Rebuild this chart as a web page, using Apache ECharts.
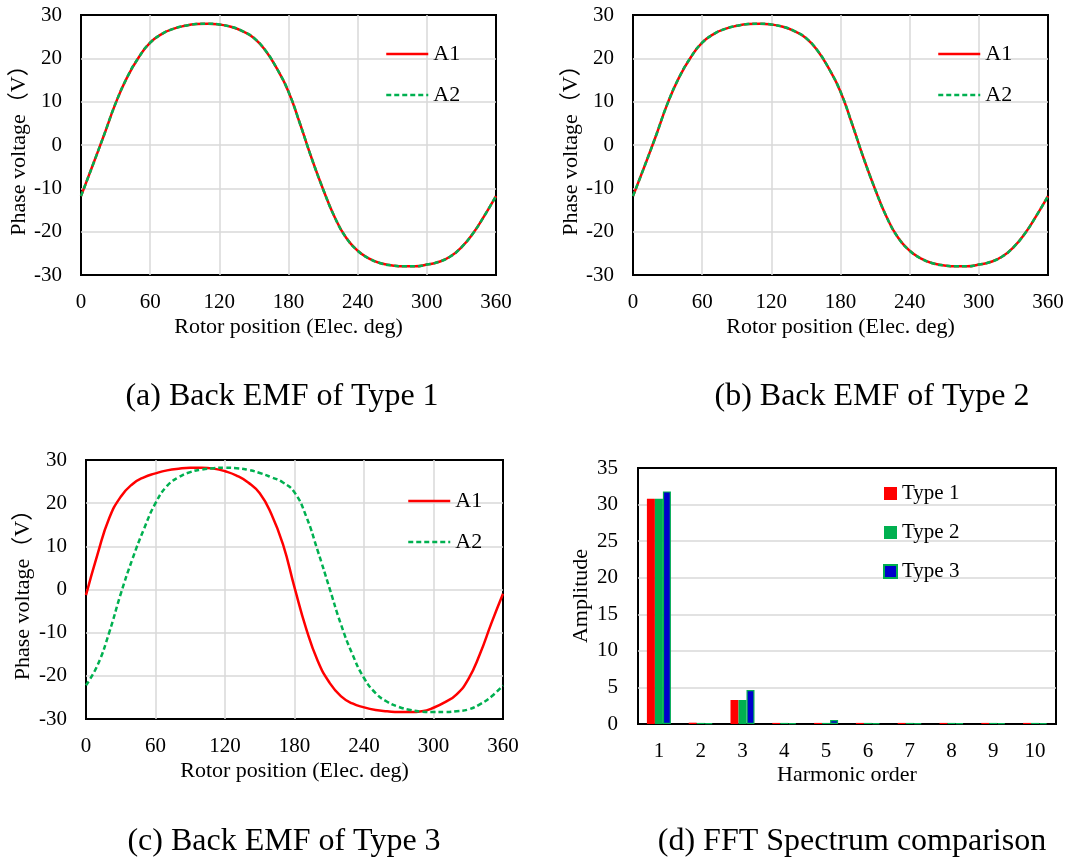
<!DOCTYPE html>
<html>
<head>
<meta charset="utf-8">
<script src="https://cdn.jsdelivr.net/npm/echarts@6/dist/echarts.min.js"></script>
<style>
html,body{margin:0;padding:0;background:#fff;}
#main{width:1089px;height:863px;}
</style>
</head>
<body>
<div id="main"></div>
<script>
// ---------- data ----------
const angles = [0,10,20,30,40,50,60,70,80,90,100,110,120,130,140,150,160,170,180,190,200,210,220,230,240,250,260,270,280,290,300,310,320,330,340,350,360];
const xTicks = [0, 60, 120, 180, 240, 300, 360];
const yTicksLine = [-30, -20, -10, 0, 10, 20, 30];

const typeA_A1 = [-11.8,-4.8,2.3,9.6,15.6,20.2,23.6,25.6,26.8,27.5,27.9,28.0,27.8,27.3,26.3,24.7,21.8,17.6,12.3,4.9,-3.0,-10.2,-16.6,-21.4,-24.4,-26.2,-27.3,-27.8,-28.0,-28.0,-27.6,-27.0,-25.8,-23.6,-20.4,-16.3,-11.8];
const typeA_A2 = [-11.8,-4.8,2.3,9.6,15.6,20.2,23.6,25.6,26.8,27.5,27.9,28.0,27.8,27.3,26.3,24.7,21.8,17.6,12.3,4.9,-3.0,-10.2,-16.6,-21.4,-24.4,-26.2,-27.3,-27.8,-28.0,-28.0,-27.6,-27.0,-25.8,-23.6,-20.4,-16.3,-11.8];
const typeB_A1 = [-11.8,-4.9,2.2,9.6,15.6,20.2,23.6,25.6,26.8,27.5,27.9,28.0,27.8,27.3,26.3,24.7,21.8,17.6,12.3,4.9,-3.0,-10.2,-16.6,-21.4,-24.4,-26.2,-27.3,-27.8,-28.0,-28.0,-27.6,-27.0,-25.8,-23.6,-20.4,-16.3,-11.8];
const typeB_A2 = [-11.8,-4.9,2.2,9.6,15.6,20.2,23.6,25.6,26.8,27.5,27.9,28.0,27.8,27.3,26.3,24.7,21.8,17.6,12.3,4.9,-3.0,-10.2,-16.6,-21.4,-24.4,-26.2,-27.3,-27.8,-28.0,-28.0,-27.6,-27.0,-25.8,-23.6,-20.4,-16.3,-11.8];
const typeC_A1 = [-1.3,8.2,16.5,21.5,24.4,26.0,26.9,27.6,28.0,28.2,28.2,28.0,27.4,26.4,24.8,22.3,17.5,10.5,0.5,-9.0,-16.5,-21.5,-24.7,-26.4,-27.3,-27.9,-28.2,-28.4,-28.4,-28.2,-27.4,-26.1,-24.3,-20.8,-15.0,-7.8,-1.0];
const typeC_A2 = [-22.2,-17.5,-10.0,-1.0,7.0,14.0,20.0,24.0,26.0,27.2,27.8,28.1,28.2,28.1,27.7,27.0,26.0,24.8,22.5,17.0,9.0,0.5,-8.0,-15.0,-20.5,-24.0,-26.0,-27.2,-27.9,-28.3,-28.4,-28.4,-28.2,-27.8,-26.6,-24.8,-22.2];

const harmonics = ['1','2','3','4','5','6','7','8','9','10'];
const fftType1 = [30.8,0.18,3.28,0.15,0.15,0.15,0.15,0.15,0.15,0.15];
const fftType2 = [30.8,0.15,3.28,0.15,0.15,0.15,0.15,0.15,0.15,0.15];
const fftType3 = [31.8,0.12,4.65,0.12,0.55,0.12,0.12,0.12,0.12,0.12];
const yTicksBar = [0, 5, 10, 15, 20, 25, 30, 35];

const captions = ['(a) Back EMF of Type 1', '(b) Back EMF of Type 2', '(c) Back EMF of Type 3', '(d) FFT Spectrum comparison'];

// ---------- styles ----------
const FONT = "'Liberation Serif', 'Times New Roman', 'Noto Sans CJK SC', serif";
const RED = '#ff0000', GREEN = '#00b050', BLUE = '#0000cc', GRIDC = '#d9d9d9';

const grids = [
  {left: 81, top: 15, width: 415, height: 260},
  {left: 633, top: 15, width: 415, height: 260},
  {left: 86, top: 460, width: 417, height: 259},
  {left: 638, top: 468, width: 418, height: 256}
].map(g => Object.assign({show: true, borderColor: '#000', borderWidth: 2, backgroundColor: '#fff', containLabel: false}, g));

const splitStyle = {show: true, showMinLine: false, showMaxLine: false, lineStyle: {color: GRIDC, width: 1.5}};

function lineX(gi) {
  return {
    type: 'value', gridIndex: gi, min: xTicks[0], max: xTicks[xTicks.length-1], interval: 60,
    name: 'Rotor position (Elec. deg)', nameLocation: 'middle', nameGap: 41,
    nameTextStyle: {fontFamily: FONT, fontSize: 22, color: '#000'},
    axisLine: {show: false}, axisTick: {show: false},
    axisLabel: {fontFamily: FONT, fontSize: 21, color: '#000', margin: 17},
    splitLine: splitStyle
  };
}
function lineY(gi, gap) {
  return {
    type: 'value', gridIndex: gi, min: yTicksLine[0], max: yTicksLine[yTicksLine.length-1], interval: 10,
    name: 'Phase voltage（V）', nameLocation: 'middle', nameGap: gap,
    nameTextStyle: {fontFamily: FONT, fontSize: 22, color: '#000'},
    axisLine: {show: false}, axisTick: {show: false},
    axisLabel: {fontFamily: FONT, fontSize: 21, color: '#000', margin: 19},
    splitLine: splitStyle
  };
}
function pts(arr) { return angles.map((a, i) => [a, arr[i]]); }
function lineSeries(name, gi, arr, dashed) {
  return {
    type: 'line', name: name, xAxisIndex: gi, yAxisIndex: gi, data: pts(arr),
    smooth: 0.5, showSymbol: false, symbol: 'none', silent: true, animation: false,
    lineStyle: {color: dashed ? GREEN : RED, width: 2.5, type: dashed ? [5, 3] : 'solid'},
    itemStyle: {color: dashed ? GREEN : RED}
  };
}
function lineLegend(names, left, top) {
  return {
    orient: 'vertical', left: left, top: top, padding: 0, itemGap: 19, itemWidth: 42, itemHeight: 14,
    data: names, formatter: n => n.slice(2),
    selectedMode: false,
    itemStyle: {opacity: 0},
    lineStyle: {width: 2.5},
    textStyle: {fontFamily: FONT, fontSize: 22, color: '#000'}
  };
}

const chart = echarts.init(document.getElementById('main'), null, {renderer: 'canvas'});

const option = {
  animation: false,
  backgroundColor: '#fff',
  grid: grids,
  xAxis: [lineX(0), lineX(1), lineX(2), {
    type: 'category', gridIndex: 3, data: harmonics, boundaryGap: true,
    name: 'Harmonic order', nameLocation: 'middle', nameGap: 40,
    nameTextStyle: {fontFamily: FONT, fontSize: 22, color: '#000'},
    axisLine: {show: false}, axisTick: {show: false},
    axisLabel: {fontFamily: FONT, fontSize: 21, color: '#000', margin: 17},
    splitLine: {show: false}
  }],
  yAxis: [lineY(0, 46), lineY(1, 49), lineY(2, 52), {
    type: 'value', gridIndex: 3, min: yTicksBar[0], max: yTicksBar[yTicksBar.length-1], interval: 5,
    name: 'Amplitude', nameLocation: 'middle', nameGap: 46,
    nameTextStyle: {fontFamily: FONT, fontSize: 22, color: '#000'},
    axisLine: {show: false}, axisTick: {show: false},
    axisLabel: {fontFamily: FONT, fontSize: 21, color: '#000', margin: 20},
    splitLine: splitStyle
  }],
  legend: [
    lineLegend(['a-A1', 'a-A2'], 385, 43),
    lineLegend(['b-A1', 'b-A2'], 937, 43),
    lineLegend(['c-A1', 'c-A2'], 407, 490),
    {
      orient: 'vertical', left: 883, top: 483, padding: 0, itemGap: 18, itemWidth: 13, itemHeight: 13,
      selectedMode: false, icon: 'rect',
      data: ['Type 1', 'Type 2', 'Type 3'],
      textStyle: {fontFamily: FONT, fontSize: 21, color: '#000'}
    }
  ],
  series: [
    lineSeries('a-A1', 0, typeA_A1, false),
    lineSeries('a-A2', 0, typeA_A2, true),
    lineSeries('b-A1', 1, typeB_A1, false),
    lineSeries('b-A2', 1, typeB_A2, true),
    lineSeries('c-A1', 2, typeC_A1, false),
    lineSeries('c-A2', 2, typeC_A2, true),
    {type: 'bar', name: 'Type 1', xAxisIndex: 3, yAxisIndex: 3, data: fftType1, barWidth: 8, barGap: '0%',
     itemStyle: {color: RED}},
    {type: 'bar', name: 'Type 2', xAxisIndex: 3, yAxisIndex: 3, data: fftType2, barWidth: 8, barGap: '0%',
     itemStyle: {color: GREEN}},
    {type: 'bar', name: 'Type 3', xAxisIndex: 3, yAxisIndex: 3, data: fftType3, barWidth: 8, barGap: '0%',
     itemStyle: {color: BLUE, borderColor: GREEN, borderWidth: 1.2}}
  ],
  graphic: [
    {x: 282, y: 397, text: captions[0]},
    {x: 872, y: 397, text: captions[1]},
    {x: 284, y: 842, text: captions[2]},
    {x: 852, y: 842, text: captions[3]}
  ].map(c => ({
    type: 'text', x: c.x, y: c.y, silent: true,
    style: {text: c.text, fontFamily: FONT, fontSize: 32, fill: '#000', align: 'center', verticalAlign: 'middle'}
  }))
};
chart.setOption(option);
</script>
</body>
</html>
